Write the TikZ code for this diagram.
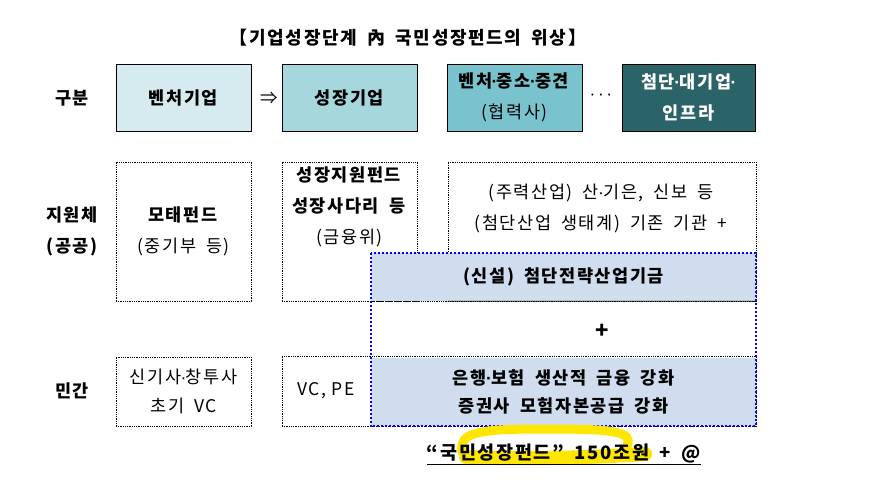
\documentclass[tikz,border=0pt]{standalone}
\usepackage{fontspec}
\setmainfont{Noto Sans CJK KR}
\newfontfamily\krs[LetterSpace=9,WordSpace=1.8]{Noto Sans CJK KR}
\newfontfamily\latdot{Liberation Sans}
\newcommand\mdot{\kern-0.6pt{\latdot ·}\kern-0.6pt}
\usetikzlibrary{calc}
\definecolor{cA}{HTML}{D5EBEF}
\definecolor{cB}{HTML}{A6D7DD}
\definecolor{cC}{HTML}{78C3CD}
\definecolor{cD}{HTML}{2A6368}
\definecolor{cE}{HTML}{D0DDEF}
\definecolor{cY}{HTML}{FFE600}
\definecolor{cBl}{HTML}{0000FF}
\tikzset{
  f/.style={font=\krs\fontsize{17.5}{31}\selectfont},
  fb/.style={font=\krs\bfseries\fontsize{17.5}{31}\selectfont},
  solidbox/.style={draw=black, line width=0.8pt, inner sep=0pt, align=center},
  dotbox/.style={draw=black, line width=0.7pt, dash pattern=on 0.9pt off 0.9pt, inner sep=0pt, align=center},
  fillbox/.style={inner sep=0pt, align=center, fill=cE},
  txt/.style={align=center, inner sep=0pt},
}
\begin{document}
\begin{tikzpicture}[x=1pt,y=-1pt]
\useasboundingbox (0,0) rectangle (880,481);
\fill[white] (0,0) rectangle (880,481);
% title
\node[txt, font=\krs\bfseries\fontsize{18}{20}\selectfont] (title) at (408,38) {【기업성장단계 內 국민성장펀드의 위상】};
% row labels
\node[txt, fb] (r1) at (72,98) {구분};
\node[txt, fb] (r2) at (72,231) {지원체\\(공공)};
\node[txt, fb] (r3) at (72,391) {민간};
% top row
\node[solidbox, fill=cA, minimum width=135pt, minimum height=67pt, fb] (b1) at (183.5,97.5) {벤처기업};
\node[solidbox, fill=cB, minimum width=135pt, minimum height=67pt, fb] (b2) at (349.5,97.5) {성장기업};
\node[txt, f] (arr) at (269,98) {⇒};
\node[solidbox, fill=cC, minimum width=135pt, minimum height=67pt, f] (b3) at (514.5,97.5) {\textbf{벤처\mdot 중소\mdot 중견}\\(협력사)};
\node[txt, font=\fontsize{15}{20}\selectfont] (dots) at (601,97) {···};
\node[solidbox, fill=cD, minimum width=133pt, minimum height=67pt, fb, text=white] (b4) at (688.5,97.5) {첨단\mdot 대기업\mdot\\인프라};
% middle row
\node[dotbox, minimum width=135pt, minimum height=139pt, f] (m1) at (183.5,231.5) {\textbf{모태펀드}\\(중기부 등)};
\node[dotbox, minimum width=135pt, minimum height=139pt] (m2) at (349.5,231.5) {};
\node[txt, f] (m2t) at (349.5,207) {\textbf{성장지원펀드}\\\textbf{성장사다리 등}\\(금융위)};
\node[dotbox, minimum width=308pt, minimum height=139pt] (m3) at (602,231.5) {};
\node[txt, f] (m3t) at (601,208) {(주력산업) 산\mdot 기은, 신보 등\\(첨단산업 생태계) 기존 기관 +};
\node[fillbox, minimum width=385pt, minimum height=48pt, fb] (nb) at (563.5,277) {(신설) 첨단전략산업기금};
\draw[line width=0.7pt, dash pattern=on 0.9pt off 0.9pt] (nb.south west) -- (nb.south west -| m3.west);
\draw[line width=0.8pt] (nb.south west -| m3.west) -- (m3.south east);
\node[txt, font=\bfseries\fontsize{22}{22}\selectfont] (plus) at (602,331) {+};
% bottom row
\node[dotbox, minimum width=135pt, minimum height=69pt, f] (p1) at (183.5,391.5) {신기사\mdot 창투사\\[-2pt]초기 VC};
\node[fillbox, minimum width=385pt, minimum height=68pt, fb] (pb) at (563.5,392) {은행\mdot 보험 생산적 금융 강화\\[-3pt]증권사 모험자본공급 강화};
\node[dotbox, minimum width=474pt, minimum height=70pt] (p2) at (519,391) {};
\node[txt, f] (p2t) at (326,391) {VC,\,\,PE};
% blue dotted outline
\draw[cBl, line width=1.6pt, dash pattern=on 2pt off 2pt] (nb.north west) rectangle (pb.south east);
% highlight
\draw[cY, line width=9pt, line cap=round, line join=round]
  (627,446) .. controls (634,431) and (612,429) .. (545,429)
  .. controls (478,429) and (459,432) .. (462,452);
\draw[cY, line width=14pt, line cap=round] (466,457) .. controls (530,460) and (600,457) .. (645,454);
% bottom text
\node[txt, font=\krs\bfseries\fontsize{18.5}{20}\selectfont, anchor=base] (bt) at (564,459) {“국민성장펀드” 150조원 + @};
\draw[line width=0.9pt] ($(bt.base west)+(0,5)$) -- ($(bt.base east)+(0,5)$);
\end{tikzpicture}
\end{document}
